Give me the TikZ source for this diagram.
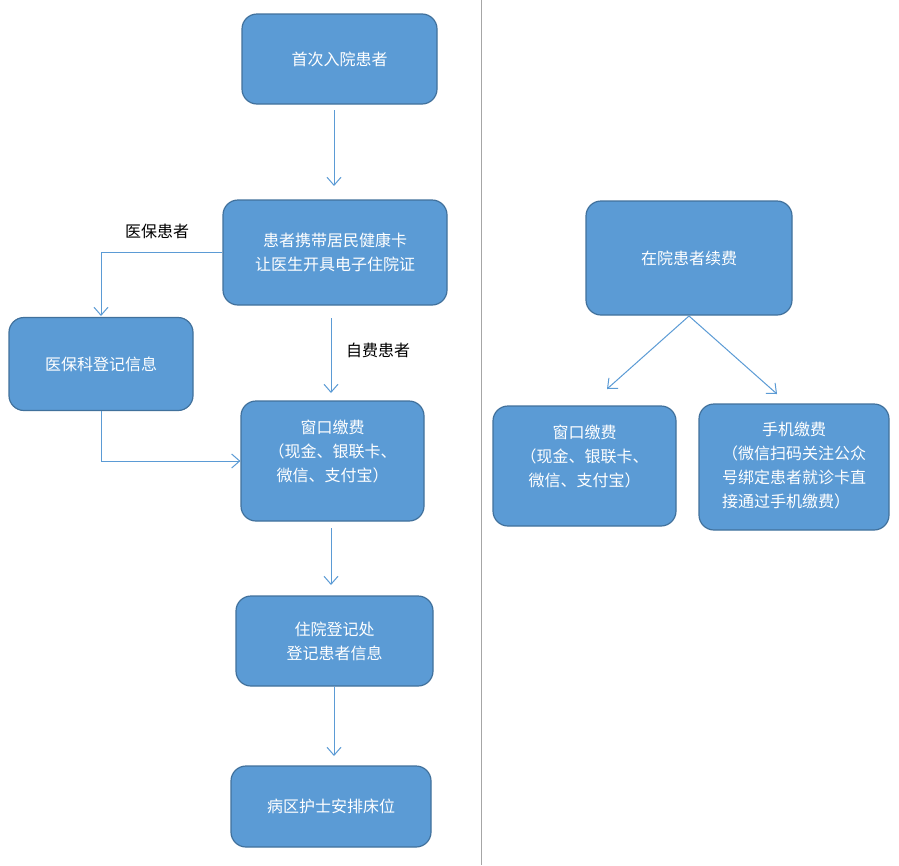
\documentclass[tikz,border=0pt]{standalone}
\usepackage{fontspec}
\newfontfamily\cjk{Noto Sans CJK SC}
\usetikzlibrary{arrows.meta}
\definecolor{boxfill}{HTML}{5B9BD5}
\definecolor{boxline}{HTML}{41719C}
\definecolor{arrowc}{HTML}{5B9BD5}
\definecolor{sepc}{HTML}{A6A6A6}
\tikzset{
  flowbox/.style={draw=boxline, fill=boxfill, line width=1.2pt, rounded corners=15pt,
    text=white, font=\cjk\fontsize{16}{24}\selectfont, align=center, inner sep=0pt},
  flowarrow/.style={draw=arrowc, line width=1pt, -{Straight Barb[length=8pt,width=14pt]}},
  lbl/.style={font=\cjk\fontsize{16}{24}\selectfont, text=black, inner sep=0pt}
}
\begin{document}
\begin{tikzpicture}[x=1pt,y=-1pt]
\useasboundingbox (0,0) rectangle (899,865);
\fill[white] (0,0) rectangle (899,865);
% separator
\coordinate (sepT) at (481,0);
\coordinate (sepB) at (481,865);
\draw[sepc, line width=1pt] (sepT) -- (sepB);

\node[flowbox, minimum width=195pt, minimum height=90pt] (n1) at (339.5,59) {首次入院患者};
\node[flowbox, minimum width=224pt, minimum height=105pt] (n2) at (335,252.5) {患者携带居民健康卡\\让医生开具电子住院证};
\node[flowbox, minimum width=184pt, minimum height=93pt] (n3) at (101,364) {医保科登记信息};
\node[flowbox, minimum width=183pt, minimum height=120pt] (n4) at (332.5,461) {窗口缴费\\（现金、银联卡、\\微信、支付宝）\\[-4pt]\mbox{}};
\node[flowbox, minimum width=197pt, minimum height=90pt] (n5) at (334.5,641) {住院登记处\\登记患者信息};
\node[flowbox, minimum width=200pt, minimum height=81pt] (n6) at (331,806.5) {病区护士安排床位};
\node[flowbox, minimum width=206pt, minimum height=114pt] (n7) at (689,258) {在院患者续费};
\node[flowbox, minimum width=183pt, minimum height=120pt] (n8) at (584.5,466) {窗口缴费\\（现金、银联卡、\\微信、支付宝）\\[-4pt]\mbox{}};
\node[flowbox, minimum width=190pt, minimum height=126pt] (n9) at (794,467) {\begin{tabular}{@{}l@{}}\multicolumn{1}{c}{手机缴费}\\（微信扫码关注公众\\号绑定患者就诊卡直\\接通过手机缴费）\end{tabular}};

% labels
\node[lbl] (l1) at (157,231) {医保患者};
\node[lbl] (l2) at (378,350) {自费患者};

% arrows
\coordinate (a1s) at (334,110);
\coordinate (a1e) at (334,186);
\draw[flowarrow] (a1s) -- (a1e);

\coordinate (b2) at (101,252);
\coordinate (b3) at (101,316);
\draw[flowarrow] (n2.west |- b2) -- (b2) -- (b3);

\coordinate (c1) at (331,318);
\coordinate (c2) at (331,393);
\draw[flowarrow] (c1) -- (c2);

\coordinate (d1) at (101,461);
\draw[flowarrow] (n3.south) -- (d1) -- (n4.west |- d1);

\coordinate (e1) at (331,528);
\coordinate (e2) at (331,585);
\draw[flowarrow] (e1) -- (e2);

\coordinate (f1) at (334,756);
\draw[flowarrow] (n5.south -| f1) -- (f1);

\coordinate (g0) at (689,316);
\coordinate (g1) at (607,389);
\coordinate (g2) at (777,394);
\draw[flowarrow] (g0) -- (g1);
\draw[flowarrow] (g0) -- (g2);
\end{tikzpicture}
\end{document}
